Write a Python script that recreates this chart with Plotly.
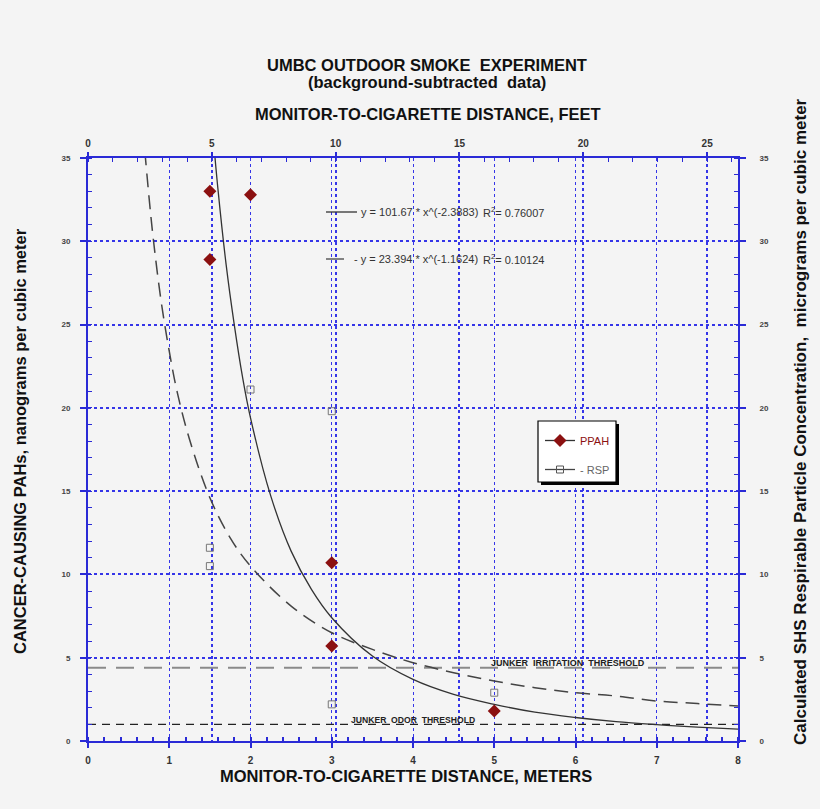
import plotly.graph_objects as go

# ---------------- data ----------------
ppah_x = [1.5, 1.5, 2.0, 3.0, 3.0, 5.0]
ppah_y = [33.0, 28.9, 32.8, 10.7, 5.7, 1.8]

rsp_x = [1.5, 1.5, 2.0, 3.0, 3.0, 5.0]
rsp_y = [11.6, 10.5, 21.1, 19.8, 2.2, 2.9]

# power-law trend (PPAH)
trend_ppah_x = [1.54, 1.6, 1.7, 1.8, 1.9, 2.0, 2.25, 2.5, 2.75, 3.0, 3.5, 4.0, 4.5, 5.0, 5.5, 6.0, 6.5, 7.0, 7.5, 8.0]
trend_ppah_y = [36.3, 33.1, 28.6, 25.0, 21.9, 19.4, 14.7, 11.4, 9.1, 7.4, 5.1, 3.7, 2.8, 2.2, 1.73, 1.41, 1.16, 0.98, 0.83, 0.71]

# power-law trend (RSP)
trend_rsp_x = [0.70, 0.75, 0.8, 0.9, 1.0, 1.1, 1.25, 1.5, 1.75, 2.0, 2.5, 3.0, 3.5, 4.0, 4.5, 5.0, 5.5, 6.0, 6.5, 7.0, 7.5, 8.0]
trend_rsp_y = [35.4, 32.7, 30.3, 26.4, 23.4, 20.9, 18.1, 14.6, 12.2, 10.5, 8.1, 6.5, 5.5, 4.7, 4.1, 3.6, 3.2, 2.9, 2.7, 2.4, 2.25, 2.1]

irritation_threshold = 4.4
odor_threshold = 1.0

x_range_m = [0, 8]
m_per_ft = 0.3048
y_range = [0, 35]

# ---------------- layout helpers ----------------
W, H = 820, 809
L, R, T, B = 88, 738, 158, 741
def px(x):
    return (x - L) / (R - L)
def py(y):
    return (B - y) / (B - T)

BLUE = "#2a2ad6"
GRID = "#3535e8"
BG = "#f4f4f4"
FONT = "Liberation Sans, Arial, sans-serif"
DARKRED = "#8b1010"

fig = go.Figure()

# thresholds
fig.add_trace(go.Scatter(x=x_range_m, y=[irritation_threshold] * 2, mode="lines",
                         line=dict(color="#8a8a8a", width=2, dash="18px,10px"),
                         showlegend=False, hoverinfo="skip"))
fig.add_trace(go.Scatter(x=x_range_m, y=[odor_threshold] * 2, mode="lines",
                         line=dict(color="#222222", width=1.2, dash="8px,6px"),
                         showlegend=False, hoverinfo="skip"))

# trend curves
fig.add_trace(go.Scatter(x=trend_ppah_x, y=trend_ppah_y, mode="lines", line_shape="spline",
                         line=dict(color="#333333", width=1.3), showlegend=False, hoverinfo="skip"))
fig.add_trace(go.Scatter(x=trend_rsp_x, y=trend_rsp_y, mode="lines", line_shape="spline",
                         line=dict(color="#444444", width=1.5, dash="14px,8px"),
                         showlegend=False, hoverinfo="skip"))

# data points
fig.add_trace(go.Scatter(x=rsp_x, y=rsp_y, mode="markers",
                         marker=dict(symbol="square-open", size=7, color="#777777", line=dict(width=1)),
                         showlegend=False))
fig.add_trace(go.Scatter(x=ppah_x, y=ppah_y, mode="markers",
                         marker=dict(symbol="diamond", size=10, color=DARKRED),
                         showlegend=False))

# legend entries
fig.add_trace(go.Scatter(x=[None], y=[None], mode="lines+markers", name="<span style='color:#8b1010'>PPAH</span>",
                         legendgroup="a",
                         line=dict(color="#333333", width=1.3),
                         marker=dict(symbol="diamond", size=10, color=DARKRED)))
fig.add_trace(go.Scatter(x=[None], y=[None], mode="lines+markers", name="<span style='color:#666666'>- RSP</span>",
                         legendgroup="b",
                         line=dict(color="#444444", width=1.3),
                         marker=dict(symbol="square-open", size=7, color="#555555")))

# dummy trace on secondary axes
fig.add_trace(go.Scatter(x=[None], y=[None], xaxis="x2", yaxis="y2", showlegend=False))

axis_common = dict(showline=True, linecolor=BLUE, linewidth=2, zeroline=False,
                   tickfont=dict(family=FONT, size=10, color="#333333", weight="bold"))

fig.update_layout(
    width=W, height=H,
    margin=dict(l=L, r=W - R, t=T, b=H - B),
    paper_bgcolor=BG, plot_bgcolor=BG,
    font=dict(family=FONT),
    xaxis=dict(range=x_range_m, dtick=1, tick0=0, showgrid=True, gridcolor=GRID, griddash="dot", gridwidth=1.2,
               ticks="outside", ticklen=5, tickcolor=BLUE, tickwidth=2, ticklabelstandoff=4,
               minor=dict(dtick=0.2, ticks="inside", ticklen=4, tickcolor=BLUE, tickwidth=1.5, showgrid=False),
               **axis_common),
    xaxis2=dict(range=[x_range_m[0] / m_per_ft, x_range_m[1] / m_per_ft], dtick=5, tick0=0,
                overlaying="x", side="top", anchor="y",
                showgrid=True, gridcolor=GRID, griddash="dot", gridwidth=1.6,
                ticks="outside", ticklen=4, tickcolor=BLUE, tickwidth=2, ticklabelstandoff=1,
                minor=dict(dtick=1, ticks="inside", ticklen=4, tickcolor=BLUE, tickwidth=1, showgrid=False),
                **axis_common),
    yaxis=dict(range=y_range, dtick=5, tick0=0, showgrid=True, gridcolor=GRID, griddash="dot", gridwidth=1.5,
               ticks="outside", ticklen=6, tickcolor=BLUE, tickwidth=2, ticklabelstandoff=8,
               minor=dict(dtick=1, ticks="inside", ticklen=4, tickcolor=BLUE, tickwidth=1, showgrid=False),
               showline=True, linecolor=BLUE, linewidth=2, zeroline=False,
               tickfont=dict(family=FONT, size=8, color="#444444", weight="bold")),
    yaxis2=dict(range=y_range, dtick=5, tick0=0, overlaying="y", side="right", anchor="x",
                showgrid=False,
                ticks="outside", ticklen=6, tickcolor=BLUE, tickwidth=2, ticklabelstandoff=12,
                minor=dict(dtick=1, ticks="inside", ticklen=4, tickcolor=BLUE, tickwidth=1),
                showline=True, linecolor=BLUE, linewidth=2, zeroline=False,
                tickfont=dict(family=FONT, size=8, color="#444444", weight="bold")),
    legend=dict(x=px(540), y=py(426), xanchor="left", yanchor="top",
                bgcolor="rgba(0,0,0,0)", borderwidth=0,
                font=dict(family=FONT, size=11), itemwidth=30, tracegroupgap=10),
    showlegend=True,
)

# legend box with shadow
fig.add_shape(type="rect", xref="paper", yref="paper",
              x0=px(541), x1=px(619), y0=py(485), y1=py(424),
              fillcolor="black", line=dict(width=0), layer="above")
fig.add_shape(type="rect", xref="paper", yref="paper",
              x0=px(538), x1=px(616), y0=py(482), y1=py(421),
              fillcolor="white", line=dict(color="black", width=1.2), layer="above")

def note(xp, yp, text, font, **kw):
    args = dict(x=px(xp), y=py(yp), xref="paper", yref="paper", text=text, showarrow=False,
                font=font, xanchor="center", yanchor="middle")
    args.update(kw)
    fig.add_annotation(**args)

# titles
title_font = dict(family=FONT, size=16.5, color="#111111", weight="bold")
note(427, 65, "UMBC OUTDOOR SMOKE  EXPERIMENT", title_font)
note(427, 82, "(background-subtracted  data)", title_font)
note(428, 114, "MONITOR-TO-CIGARETTE DISTANCE, FEET", title_font)
note(406, 776, "MONITOR-TO-CIGARETTE DISTANCE, METERS", title_font)
note(20, 441, "CANCER-CAUSING PAHs, nanograms per cubic meter", title_font, textangle=-90)
note(800, 422, "Calculated SHS Respirable Particle Concentration,  micrograms per cubic meter",
     dict(title_font, size=17), textangle=-90)

# trendline equations
eq_font = dict(family=FONT, size=11, color="#333333")
fig.add_shape(type="line", xref="paper", yref="paper", x0=px(326), x1=px(357), y0=py(212), y1=py(212),
              line=dict(color="#333333", width=1.3))
note(359, 212, "y = 101.67 * x^(-2.3883)", eq_font, xanchor="left")
note(481, 212, "R<sup>2</sup>= 0.76007", eq_font, xanchor="left")
fig.add_shape(type="line", xref="paper", yref="paper", x0=px(326), x1=px(344), y0=py(259), y1=py(259),
              line=dict(color="#444444", width=1.3))
note(352, 259, "- y = 23.394 * x^(-1.1624)", eq_font, xanchor="left")
note(481, 259, "R<sup>2</sup>= 0.10124", eq_font, xanchor="left")

# threshold labels
note(568, 663, "JUNKER  IRRITATION  THRESHOLD", dict(family=FONT, size=9, color="#222222", weight="bold"))
note(413, 720, "JUNKER  ODOR  THRESHOLD", dict(family=FONT, size=8.6, color="#222222", weight="bold"))

fig.write_html("out.html", config={"displayModeBar": False},
               post_script="document.body.style.margin='0';document.body.style.background='#f4f4f4';")
